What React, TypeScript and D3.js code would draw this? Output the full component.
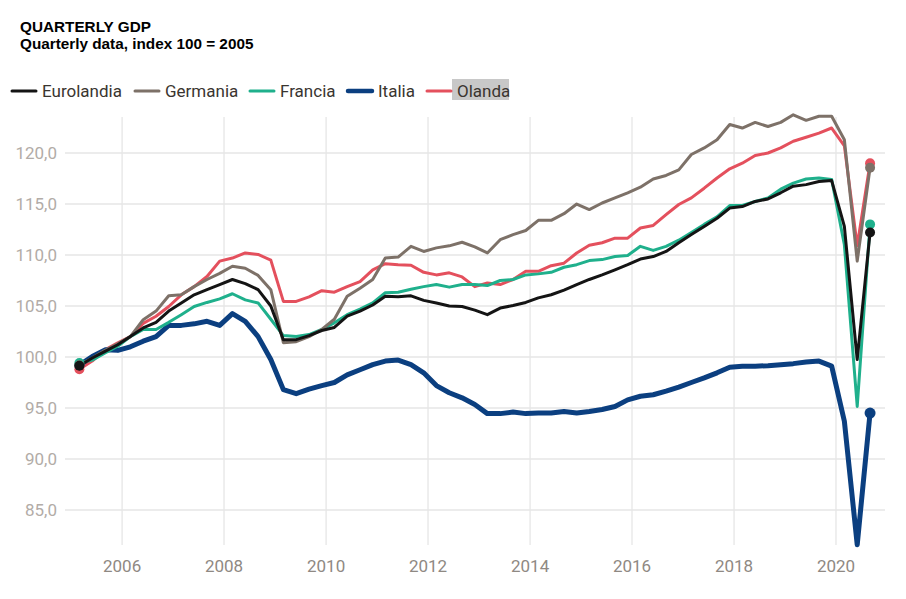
import React from "react";
import * as d3 from "d3";

// quarters 2005Q1 .. 2020Q3 (dated on the last month of each quarter)
const firstYear = 2005;
const nQuarters = 63;

const eurolandia = [
  99.15, 99.9, 100.55, 101.2, 102.0, 102.85, 103.4, 104.5, 105.3, 106.1, 106.6, 107.1,
  107.6, 107.2, 106.6, 105.0, 101.7, 101.7, 102.1, 102.6, 102.9, 104.0, 104.5, 105.1,
  105.95, 105.9, 106.0, 105.55, 105.3, 105.0, 104.95, 104.6, 104.15, 104.8, 105.05, 105.35,
  105.8, 106.1, 106.55, 107.1, 107.6, 108.05, 108.55, 109.05, 109.6, 109.85, 110.35, 111.2,
  112.0, 112.8, 113.6, 114.6, 114.75, 115.25, 115.5, 116.1, 116.75, 116.9, 117.2, 117.3,
  112.8, 99.75, 112.2,
];
const germania = [
  99.2, 99.9, 100.65, 101.3, 102.0, 103.65, 104.5, 106.0, 106.1, 106.9, 107.6, 108.2,
  108.9, 108.7, 108.0, 106.6, 101.4, 101.5, 102.0, 102.7, 103.7, 105.95, 106.75, 107.6,
  109.7, 109.8, 110.85, 110.35, 110.7, 110.9, 111.25, 110.8, 110.2, 111.5, 112.0, 112.4,
  113.4, 113.4, 114.05, 115.0, 114.45, 115.1, 115.6, 116.1, 116.65, 117.45, 117.8, 118.35,
  119.85, 120.5, 121.3, 122.8, 122.45, 123.0, 122.6, 123.0, 123.75, 123.2, 123.6, 123.6,
  121.3, 109.4, 118.55,
];
const francia = [
  99.4, 99.7, 100.4, 101.05, 102.0, 102.7, 102.7, 103.4, 104.15, 104.95, 105.35, 105.7,
  106.2, 105.6, 105.3, 103.7, 102.1, 102.0, 102.2, 102.7, 103.35, 104.15, 104.7, 105.3,
  106.3, 106.35, 106.65, 106.9, 107.1, 106.85, 107.1, 107.1, 107.0, 107.5, 107.6, 108.05,
  108.15, 108.3, 108.8, 109.05, 109.45, 109.55, 109.85, 109.95, 110.85, 110.45, 110.85, 111.45,
  112.2, 113.0, 113.75, 114.85, 114.85, 115.25, 115.6, 116.45, 117.05, 117.45, 117.55, 117.4,
  111.0, 95.15, 113.0,
];
const italia = [
  99.2, 100.05, 100.7, 100.65, 101.0, 101.55, 102.0, 103.1, 103.1, 103.25, 103.5, 103.1,
  104.25, 103.5, 102.0, 99.75, 96.8, 96.4, 96.85, 97.2, 97.5, 98.25, 98.75, 99.25,
  99.6, 99.7, 99.25, 98.45, 97.2, 96.5, 96.0, 95.35, 94.45, 94.45, 94.6, 94.45,
  94.5, 94.5, 94.65, 94.5, 94.65, 94.85, 95.15, 95.8, 96.15, 96.3, 96.65, 97.05,
  97.5, 97.95, 98.45, 99.0, 99.1, 99.1, 99.15, 99.25, 99.35, 99.5, 99.6, 99.1,
  93.7, 81.6, 94.5,
];
const olanda = [
  98.8, 99.6, 100.7, 101.4, 102.0, 103.3, 104.0, 104.95, 106.1, 106.9, 107.9, 109.4,
  109.7, 110.2, 110.05, 109.5, 105.45, 105.45, 105.9, 106.5, 106.35, 106.9, 107.4, 108.55,
  109.15, 109.05, 109.0, 108.3, 108.05, 108.25, 107.85, 106.9, 107.25, 107.1, 107.6, 108.4,
  108.4, 108.95, 109.2, 110.2, 110.95, 111.2, 111.65, 111.65, 112.65, 112.9, 113.95, 114.95,
  115.6, 116.55, 117.55, 118.45, 119.0, 119.75, 120.0, 120.5, 121.15, 121.55, 121.95, 122.45,
  120.7, 110.9, 119.0,
];

const seriesNames = ["Eurolandia", "Germania", "Francia", "Italia", "Olanda"];
const seriesValues = [eurolandia, germania, francia, italia, olanda];
const seriesColors = ["#141414", "#7d7168", "#1fb08c", "#0b3f80", "#e4505d"];
const seriesWidths = [3, 3, 3, 5, 3];
const drawOrder = [4, 3, 2, 1, 0];

const yTicks = [85, 90, 95, 100, 105, 110, 115, 120];
const xTickYears = [2006, 2008, 2010, 2012, 2014, 2016, 2018, 2020];

const title = "QUARTERLY GDP";
const subtitle = "Quarterly data, index 100 = 2005";

const W = 906;
const H = 599;
const plot = { left: 65, right: 885, top: 117, bottom: 545 };

// legend layout
const legendX = [12, 135, 250, 348, 427];
const legendY = 91;

const dates = d3.range(nQuarters).map(
  (i) => new Date(firstYear + Math.floor(i / 4), (i % 4) * 3 + 2, 1)
);

export default function App() {
  const x = d3
    .scaleTime()
    .domain([new Date(2004, 10, 18), new Date(2020, 11, 17)])
    .range([plot.left, plot.right]);
  const y = d3.scaleLinear().domain([81.569, 123.53]).range([plot.bottom, plot.top]);

  const line = d3
    .line<number>()
    .x((_, i) => x(dates[i]))
    .y((d) => y(d));

  const fmt = (v: number) => d3.format(".1f")(v).replace(".", ",");
  const last = nQuarters - 1;

  return (
    <div style={{ position: "absolute", left: 0, top: 0 }}>
      <svg width={W} height={H} style={{ display: "block", background: "#fff" }}>
        <text x={20} y={31.5} fontFamily="Liberation Sans, Arial, sans-serif" fontWeight="bold" fontSize={15.3} fill="#000">
          {title}
        </text>
        <text x={20} y={49} fontFamily="Liberation Sans, Arial, sans-serif" fontWeight="bold" fontSize={15.3} fill="#000">
          {subtitle}
        </text>

        {/* legend */}
        <g fontFamily="Roboto, sans-serif" fontSize={17}>
          {seriesNames.map((name, k) => {
            const lx = legendX[k];
            return (
              <g key={name}>
                {name === "Olanda" && (
                  <rect x={lx + 25} y={legendY - 12} width={57} height={21} fill="#c8c8c8" />
                )}
                <line
                  x1={lx}
                  x2={lx + 24}
                  y1={legendY}
                  y2={legendY}
                  stroke={seriesColors[k]}
                  strokeWidth={seriesWidths[k] === 5 ? 4.5 : 3}
                  strokeLinecap="round"
                />
                <text x={lx + 30} y={legendY + 6} fill="#3a3530">
                  {name}
                </text>
              </g>
            );
          })}
        </g>

        {/* grid */}
        <g stroke="#e6e6e6" strokeWidth={1.3}>
          {yTicks.map((t) => (
            <line key={t} x1={plot.left} x2={plot.right} y1={y(t)} y2={y(t)} />
          ))}
          {xTickYears.map((yr) => (
            <line key={yr} x1={x(new Date(yr, 0, 1))} x2={x(new Date(yr, 0, 1))} y1={plot.top} y2={plot.bottom} />
          ))}
        </g>

        {/* axes labels */}
        <g fontFamily="Roboto, sans-serif" fontSize={17} fill="#b2aca7" textAnchor="end">
          {yTicks.map((t) => (
            <text key={t} x={57} y={y(t) + 6}>
              {fmt(t)}
            </text>
          ))}
        </g>
        <g fontFamily="Roboto, sans-serif" fontSize={17} fill="#8f8983" textAnchor="middle">
          {xTickYears.map((yr) => (
            <text key={yr} x={x(new Date(yr, 0, 1))} y={572}>
              {yr}
            </text>
          ))}
        </g>

        {/* series */}
        {drawOrder.map((k) => (
          <path
            key={seriesNames[k]}
            d={line(seriesValues[k]) || ""}
            fill="none"
            stroke={seriesColors[k]}
            strokeWidth={seriesWidths[k]}
            strokeLinejoin="round"
          />
        ))}
        {drawOrder.map((k) => (
          <g key={"dots" + k} fill={seriesColors[k]}>
            <circle cx={x(dates[0])} cy={y(seriesValues[k][0])} r={5} />
            <circle cx={x(dates[last])} cy={y(seriesValues[k][last])} r={k === 3 ? 5.5 : 5} />
          </g>
        ))}
      </svg>
    </div>
  );
}
